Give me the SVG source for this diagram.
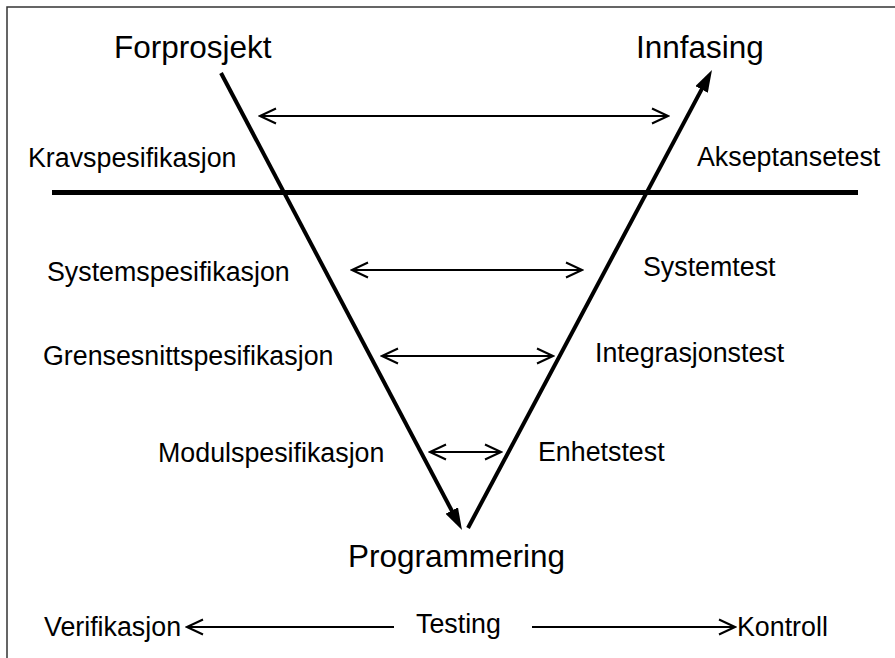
<svg xmlns="http://www.w3.org/2000/svg" width="895" height="658" viewBox="0 0 895 658">
  <defs>
    <style>
      text { font-family: "Liberation Sans", Arial, sans-serif; fill: #000; }
      .lbl { font-size: 26.8px; }
      .big { font-size: 31.5px; }
      .thin { stroke: #000; stroke-width: 2; fill: none; }
      .thick { stroke: #000; stroke-width: 4; fill: none; }
    </style>
    <marker id="open" viewBox="0 0 19 18" refX="17" refY="9" markerWidth="19" markerHeight="18" markerUnits="userSpaceOnUse" orient="auto-start-reverse">
      <path d="M1,1.5 L17,9 L1,16.5" fill="none" stroke="#000" stroke-width="2"/>
    </marker>
    <marker id="solid" viewBox="0 0 22 14" refX="4" refY="7" markerWidth="22" markerHeight="14" markerUnits="userSpaceOnUse" orient="auto">
      <path d="M0,0 L22,7 L0,14 z" fill="#000"/>
    </marker>
  </defs>
  <rect width="895" height="658" fill="#fff"/>
  <path d="M7,658 V7 H895" fill="none" stroke="#333" stroke-width="1.5"/>

  <g id="connectors">
    <line class="thick" x1="221" y1="73" x2="453.6" y2="514.1" marker-end="url(#solid)"/>
    <line class="thick" x1="468" y1="528" x2="703.5" y2="85.9" marker-end="url(#solid)"/>
    <line x1="52" y1="192.5" x2="858" y2="192.5" stroke="#000" stroke-width="5"/>
    <line class="thin" x1="260" y1="116" x2="668" y2="116" marker-start="url(#open)" marker-end="url(#open)"/>
    <line class="thin" x1="352" y1="270" x2="582" y2="270" marker-start="url(#open)" marker-end="url(#open)"/>
    <line class="thin" x1="382" y1="356" x2="553" y2="356" marker-start="url(#open)" marker-end="url(#open)"/>
    <line class="thin" x1="430" y1="452" x2="501" y2="452" marker-start="url(#open)" marker-end="url(#open)"/>
    <line class="thin" x1="394" y1="627" x2="187" y2="627" marker-end="url(#open)"/>
    <line class="thin" x1="532" y1="627" x2="735" y2="627" marker-end="url(#open)"/>
  </g>

  <g id="forprosjekt"><text class="big" x="114" y="58">Forprosjekt</text></g>
  <g id="innfasing"><text class="big" x="636" y="58">Innfasing</text></g>
  <g id="kravspesifikasjon"><text class="lbl" x="28" y="167">Kravspesifikasjon</text></g>
  <g id="akseptansetest"><text class="lbl" x="697" y="166">Akseptansetest</text></g>
  <g id="systemspesifikasjon"><text class="lbl" x="47" y="280.5">Systemspesifikasjon</text></g>
  <g id="systemtest"><text class="lbl" x="643" y="276">Systemtest</text></g>
  <g id="grensesnittspesifikasjon"><text class="lbl" x="43" y="365">Grensesnittspesifikasjon</text></g>
  <g id="integrasjonstest"><text class="lbl" x="595" y="361.5">Integrasjonstest</text></g>
  <g id="modulspesifikasjon"><text class="lbl" x="158" y="462">Modulspesifikasjon</text></g>
  <g id="enhetstest"><text class="lbl" x="538" y="461">Enhetstest</text></g>
  <g id="programmering"><text class="big" x="348" y="567">Programmering</text></g>
  <g id="verifikasjon"><text class="lbl" x="44" y="636">Verifikasjon</text></g>
  <g id="testing"><text class="lbl" x="416" y="633">Testing</text></g>
  <g id="kontroll"><text class="lbl" x="737" y="636">Kontroll</text></g>
</svg>
